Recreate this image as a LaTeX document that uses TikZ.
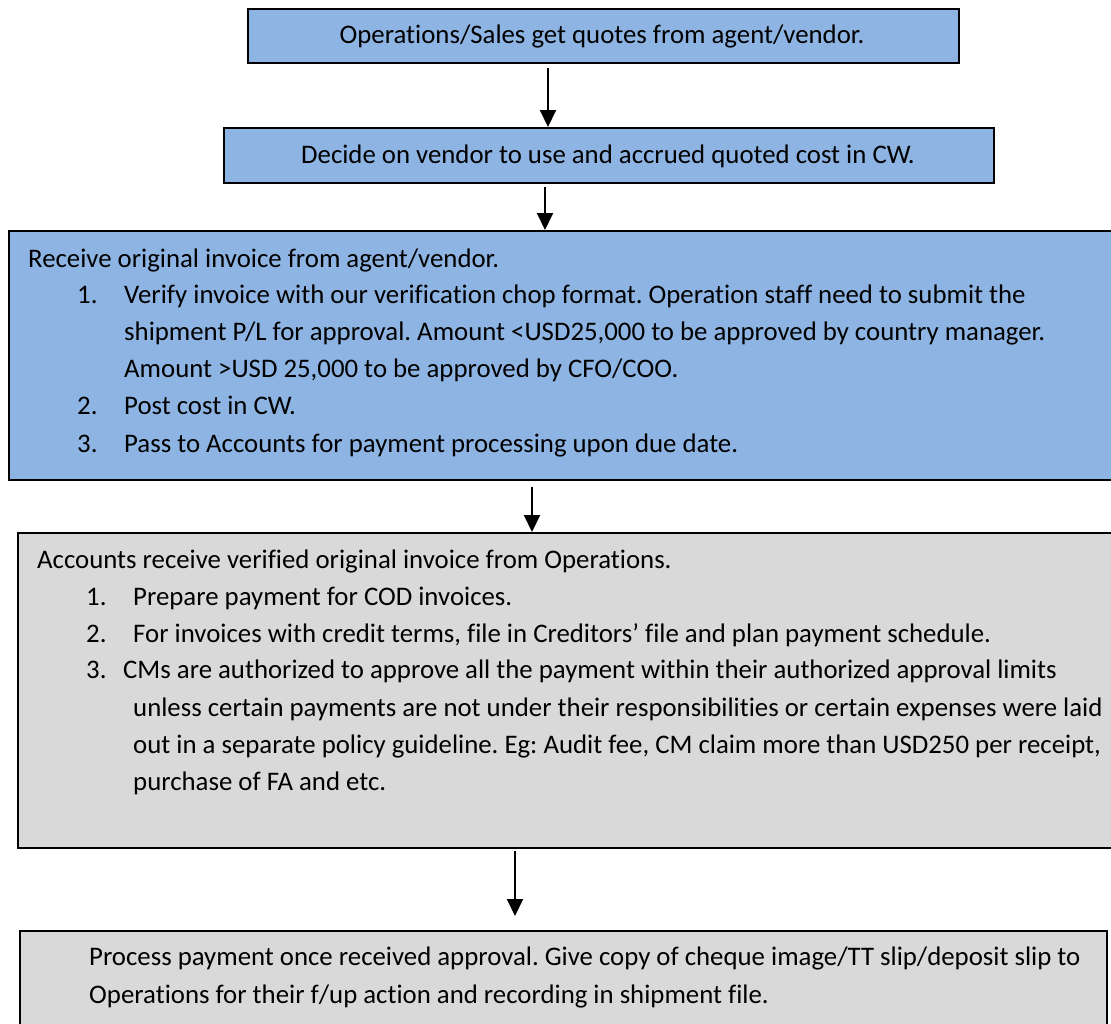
\documentclass[tikz,border=0pt]{standalone}
\usepackage{fontspec}
\setmainfont{Carlito}[Ligatures=CommonOff]
\usetikzlibrary{arrows.meta}
\definecolor{boxblue}{HTML}{8EB4E3}
\definecolor{boxgray}{HTML}{D9D9D9}
\tikzset{
  bluebox/.style={draw=black, line width=1.8pt, fill=boxblue, rectangle, anchor=north west, inner sep=0pt},
  graybox/.style={draw=black, line width=1.8pt, fill=boxgray, rectangle, anchor=north west, inner sep=0pt},
  txt/.style={anchor=base west, inner sep=0pt, font=\fontsize{26.8}{37}\selectfont\frenchspacing, text=black},
  ctxt/.style={anchor=base, inner sep=0pt, font=\fontsize{26.8}{37}\selectfont\frenchspacing, text=black},
  arr/.style={line width=2pt, -{Triangle[width=16pt,length=17pt]}}
}
\begin{document}
\begin{tikzpicture}[x=1pt,y=-1pt]
\useasboundingbox (0,0) rectangle (1111,1023);
\clip (0,0) rectangle (1111,1023);
% boxes
\node[bluebox, minimum width=711pt, minimum height=54pt] (b1) at (247,8) {};
\node[bluebox, minimum width=770pt, minimum height=55pt] (b2) at (223,127) {};
\node[bluebox, minimum width=1120pt, minimum height=249pt] (b3) at (8,230) {};
\node[graybox, minimum width=1120pt, minimum height=315pt] (b4) at (17,532) {};
\node[graybox, minimum width=1087pt, minimum height=110pt] (b5) at (19,930) {};
% texts
\node[ctxt] (t1) at (602,43) {Operations/Sales get quotes from agent/vendor.};
\node[ctxt] (t2) at (608,163) {Decide on vendor to use and accrued quoted cost in CW.};
\node[txt] (t30) at (28,267) {Receive original invoice from agent/vendor.};
\node[txt] (n31) at (77,303) {1.};
\node[txt] (t31) at (124,303) {Verify invoice with our verification chop format. Operation staff need to submit the};
\node[txt] (t32) at (124,340) {shipment P/L for approval. Amount <USD25,000 to be approved by country manager.};
\node[txt] (t33) at (124,377) {Amount >USD 25,000 to be approved by CFO/COO.};
\node[txt] (n34) at (77,414) {2.};
\node[txt] (t34) at (124,414) {Post cost in CW.};
\node[txt] (n35) at (77,452) {3.};
\node[txt] (t35) at (124,452) {Pass to Accounts for payment processing upon due date.};
\node[txt] (t40) at (37,568) {Accounts receive verified original invoice from Operations.};
\node[txt] (n41) at (86,605) {1.};
\node[txt] (t41) at (133,605) {Prepare payment for COD invoices.};
\node[txt] (n42) at (86,642) {2.};
\node[txt] (t42) at (133,642) {For invoices with credit terms, file in Creditors’ file and plan payment schedule.};
\node[txt] (n43) at (86,678) {3.};
\node[txt] (t43) at (123,678) {CMs are authorized to approve all the payment within their authorized approval limits};
\node[txt] (t44) at (133,716) {unless certain payments are not under their responsibilities or certain expenses were laid};
\node[txt] (t45) at (133,753) {out in a separate policy guideline. Eg: Audit fee, CM claim more than USD250 per receipt,};
\node[txt] (t46) at (133,790) {purchase of FA and etc.};
\node[txt] (t51) at (89,965) {Process payment once received approval. Give copy of cheque image/TT slip/deposit slip to};
\node[txt] (t52) at (89,1003) {Operations for their f/up action and recording in shipment file.};
% arrows
\coordinate (a1) at (548,0);
\coordinate (a2) at (545,0);
\coordinate (a3) at (532,0);
\coordinate (a4) at (515,0);
\coordinate (a4end) at (515,916);
\draw[arr] ([yshift=-4pt]b1.south -| a1) -- (b2.north -| a1);
\draw[arr] ([yshift=-3pt]b2.south -| a2) -- (b3.north -| a2);
\draw[arr] ([yshift=-6pt]b3.south -| a3) -- (b4.north -| a3);
\draw[arr] ([yshift=-2pt]b4.south -| a4) -- (a4end);
\end{tikzpicture}
\end{document}
